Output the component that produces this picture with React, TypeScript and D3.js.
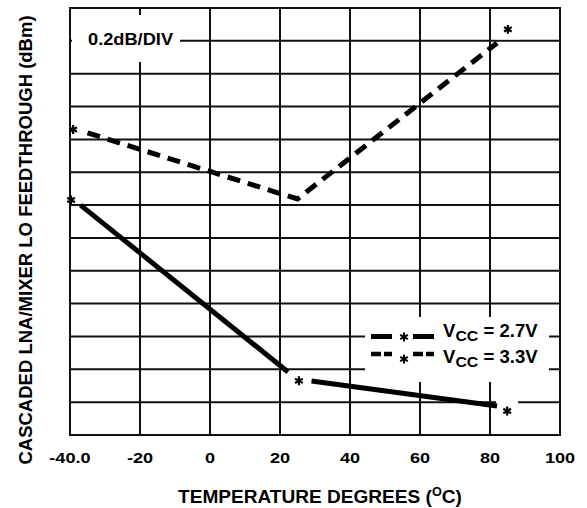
import React from 'react';
import * as d3 from 'd3';

// ---- data ----
const tempTicks = [-40, -20, 0, 20, 40, 60, 80, 100];
const tempTickLabels = ['-40.0', '-20', '0', '20', '40', '60', '80', '100'];

// VCC = 3.3V (dashed)
const vcc33Temp = [-35, 25, 82];
const vcc33Db = [1.84, 1.437, 2.387];
const vcc33StarTemp = [-39.1, 85.1];
const vcc33StarDb = [1.86, 2.47];

// VCC = 2.7V (solid, two segments broken at the 25°C marker)
const vcc27TempA = [-37, 22.3];
const vcc27DbA = [1.40, 0.384];
const vcc27TempB = [29, 82];
const vcc27DbB = [0.329, 0.177];
const vcc27StarTemp = [-39.7, 25.4, 84.9];
const vcc27StarDb = [1.431, 0.33, 0.146];

const legendLabels = ['2.7V', '3.3V'];

// ---- layout ----
const W = 587;
const H = 508;
const L = 70, R = 560, T = 8, B = 435;
const FONT = "Arial, 'Liberation Sans', Helvetica, sans-serif";
const INK = '#111';

const x = d3.scaleLinear().domain([-40, 100]).range([L, R]);
const y = d3.scaleLinear().domain([0, 2.6]).range([B, T]);
const yGrid = y.ticks(13);

const line = d3.line<[number, number]>().x(d => x(d[0])).y(d => y(d[1]));
const zip = (a: number[], b: number[]) => a.map((v, i) => [v, b[i]] as [number, number]);
const star = d3.symbol(d3.symbolAsterisk, 55)() as string;

export default function App() {
  return (
    <svg width={W} height={H} style={{ position: 'absolute', left: 0, top: 0, background: '#fff' }} fontFamily={FONT} fontWeight="bold">
      <rect x={0} y={0} width={W} height={H} fill="#fff" />
      {/* grid */}
      <g stroke={INK} strokeWidth={2}>
        {tempTicks.map(t => (
          <line key={'v' + t} x1={x(t)} x2={x(t)} y1={T} y2={B} />
        ))}
        {yGrid.map(v => (
          <line key={'h' + v} x1={L} x2={R} y1={y(v)} y2={y(v)} />
        ))}
      </g>
      {/* white boxes for labels */}
      <rect x={72} y={15} width={108} height={47} fill="#fff" />
      <rect x={365} y={317} width={184} height={65} fill="#fff" />
      {zip(vcc27StarTemp, vcc27StarDb).concat(zip(vcc33StarTemp, vcc33StarDb)).filter(d => d[0] > 0).map((d, i) => (
        <rect key={'sb' + i} x={x(d[0]) - 11} y={y(d[1]) - 10} width={22} height={20} fill="#fff" />
      ))}
      {/* frame */}
      <rect x={L} y={T} width={R - L} height={B - T} fill="none" stroke={INK} strokeWidth={2} />

      {/* series */}
      <path d={line(zip(vcc33Temp, vcc33Db)) as string} fill="none" stroke="#000" strokeWidth={5} strokeDasharray="13 8" />
      <path d={line(zip(vcc27TempA, vcc27DbA)) as string} fill="none" stroke="#000" strokeWidth={5} />
      <path d={line(zip(vcc27TempB, vcc27DbB)) as string} fill="none" stroke="#000" strokeWidth={5} />
      {zip(vcc27StarTemp, vcc27StarDb).concat(zip(vcc33StarTemp, vcc33StarDb)).map((d, i) => (
        <path key={'s' + i} d={star} transform={`translate(${x(d[0])},${y(d[1])})`} fill="none" stroke="#000" strokeWidth={2.2} />
      ))}

      {/* div label */}
      <text x={0} y={0} fontSize={16} fill="#000" transform="translate(88,45) scale(1.14,1)">0.2dB/DIV</text>

      {/* legend */}
      <g>
        <line x1={371} x2={392} y1={336.5} y2={336.5} stroke="#000" strokeWidth={5} />
        <line x1={413} x2={434} y1={336.5} y2={336.5} stroke="#000" strokeWidth={5} />
        <path d={star} transform="translate(404,337)" fill="none" stroke="#000" strokeWidth={2} />
        <line x1={371} x2={392} y1={354} y2={354} stroke="#000" strokeWidth={4.5} strokeDasharray="10 3" />
        <line x1={413} x2={434} y1={354} y2={354} stroke="#000" strokeWidth={4.5} strokeDasharray="10 3" />
        <path d={star} transform="translate(404,359)" fill="none" stroke="#000" strokeWidth={2} />
        {legendLabels.map((lab, i) => (
          <text key={lab} x={0} y={0} fontSize={17.5} fill="#000" transform={`translate(443,${337 + i * 26}) scale(1.06,1)`}>
            V<tspan fontSize={15} dy={4}>CC</tspan><tspan dy={-4}>{` = ${lab}`}</tspan>
          </text>
        ))}
      </g>

      {/* x tick labels */}
      {tempTicks.map((t, i) => (
        <text key={'xl' + t} x={0} y={0} fontSize={15.5} textAnchor="middle" fill="#000" transform={`translate(${x(t)},463) scale(1.17,1)`}>
          {tempTickLabels[i]}
        </text>
      ))}

      {/* axis titles */}
      <text x={0} y={0} fontSize={18} textAnchor="middle" fill="#000" transform="translate(320,503) scale(1.06,1)">
        TEMPERATURE DEGREES (<tspan fontSize={12} dy={-7}>O</tspan><tspan dy={7}>C)</tspan>
      </text>
      <text x={0} y={0} fontSize={18.5} textAnchor="middle" fill="#000" transform="translate(32,240) rotate(-90)">
        CASCADED LNA/MIXER LO FEEDTHROUGH (dBm)
      </text>
    </svg>
  );
}
